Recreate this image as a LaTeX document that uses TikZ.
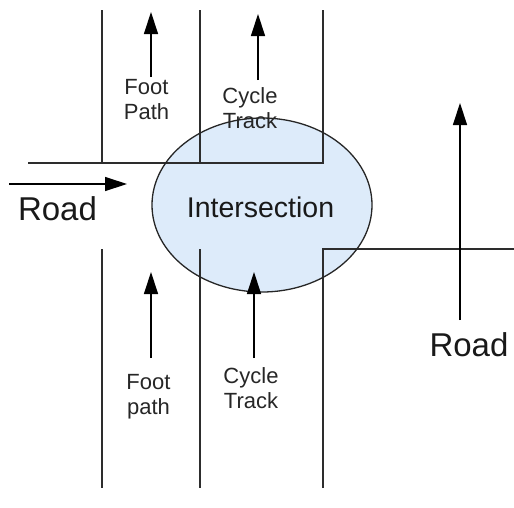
\documentclass[tikz,border=0pt]{standalone}
\usepackage{fontspec}
\setmainfont{Liberation Sans}
\usetikzlibrary{arrows.meta,shapes.geometric}
\definecolor{isect}{RGB}{221,235,250}
\definecolor{ln}{RGB}{45,45,45}
\begin{document}
\begin{tikzpicture}[x=1pt,y=-1pt,
  roadline/.style={draw=ln,line width=1.2pt},
  flow/.style={draw=black,line width=1.3pt,-{Triangle[length=22pt,width=14pt]}},
  small/.style={font=\fontsize{22}{25}\selectfont,align=center,inner sep=0pt,text=black!85},
  big/.style={font=\fontsize{33}{36}\selectfont,inner sep=0pt,text=black!90}]
\useasboundingbox (0,0) rectangle (514,507);
% intersection fill
\fill[isect] (262,205) ellipse [x radius=110, y radius=87];
% road edges
\draw[roadline] (102,10) -- (102,163);
\draw[roadline] (200,10) -- (200,163);
\draw[roadline] (28,163) -- (323,163) -- (323,10);
\draw[roadline] (102,249) -- (102,488);
\draw[roadline] (200,249) -- (200,488);
\draw[roadline] (323,488) -- (323,249) -- (514,249);
% labels
\node[small] (fp1) at (146.5,99.5) {Foot\\Path};
\node[small] (ct1) at (250,108) {Cycle\\Track};
\node[small] (fp2) at (148.5,397) {Foot\\path};
\node[small] (ct2) at (251,388) {Cycle\\Track};
\node[big] (road1) at (57.5,209) {Road};
\node[big] (road2) at (469,345) {Road};
% intersection outline and label
\node[draw=black!85,line width=1.3pt,ellipse,minimum width=220pt,minimum height=174pt,inner sep=0pt] (isec) at (262,205) {};
\node[font=\fontsize{28.5}{30}\selectfont,inner sep=0pt,text=black!90] (isectlabel) at (260.5,207) {Intersection};
% arrows
\coordinate (a1s) at (151,77);  \coordinate (a1e) at (151,12);
\coordinate (a2s) at (258,80);  \coordinate (a2e) at (258,14);
\coordinate (a3s) at (151,358); \coordinate (a3e) at (151,272);
\coordinate (a4s) at (254,358); \coordinate (a4e) at (254,272);
\coordinate (a5s) at (9,184);   \coordinate (a5e) at (127,184);
\coordinate (a6s) at (460,320); \coordinate (a6e) at (460,103);
\draw[flow] (a1s) -- (a1e);
\draw[flow] (a2s) -- (a2e);
\draw[flow] (a3s) -- (a3e);
\draw[flow] (a4s) -- (a4e);
\draw[flow] (a5s) -- (a5e);
\draw[flow] (a6s) -- (a6e);
\end{tikzpicture}
\end{document}
